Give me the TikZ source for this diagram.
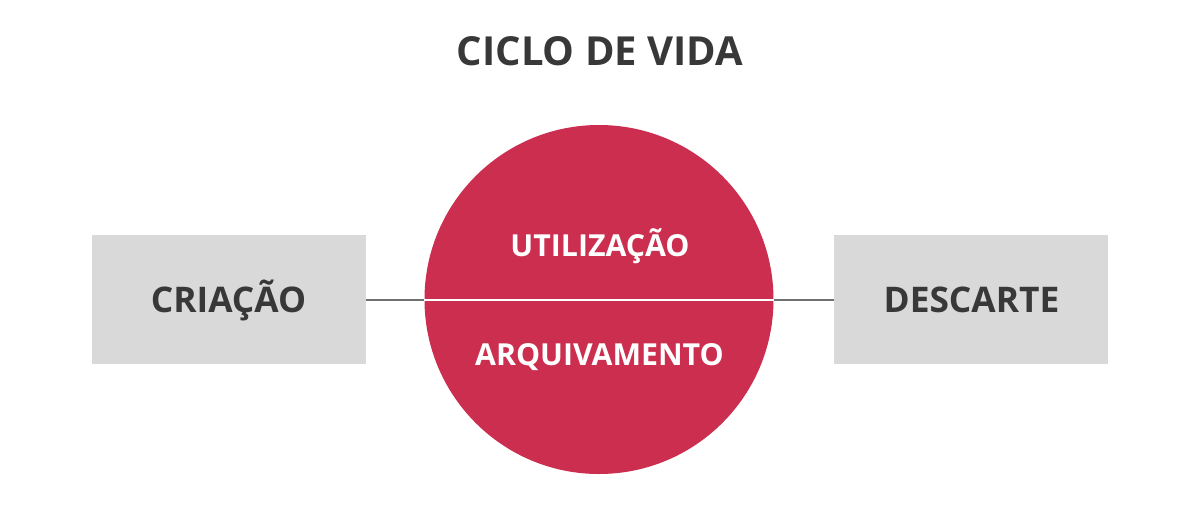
\documentclass[tikz,border=0pt]{standalone}
\usepackage{fontspec}
\setmainfont{Open Sans}
\definecolor{crimson}{HTML}{CC2E4F}
\definecolor{boxgray}{HTML}{D9D9D9}
\definecolor{txtdark}{HTML}{383838}
\definecolor{linegray}{HTML}{707070}
\tikzset{
  stagebox/.style={fill=boxgray, draw=none, minimum width=274pt, minimum height=129pt, inner sep=0pt},
  boxlabel/.style={font=\fontsize{35.3}{35.3}\selectfont\bfseries, text=txtdark, anchor=base, inner sep=0pt},
  circlabel/.style={font=\fontsize{30.3}{30.3}\selectfont\bfseries, text=white, anchor=base, inner sep=0pt},
  link/.style={draw=linegray, line width=2pt},
}
\begin{document}
\begin{tikzpicture}[x=1pt,y=-1pt]
\useasboundingbox (0,0) rectangle (1200,515);
\fill[white] (0,0) rectangle (1200,515);
\node[font=\fontsize{40}{40}\selectfont\bfseries, text=txtdark, anchor=base, inner sep=0pt] (title) at (600,65.5) {CICLO DE VIDA};
\node[stagebox] (cria) at (229,299.5) {};
\node[stagebox] (desc) at (971,299.5) {};
\node[circle, fill=crimson, draw=none, minimum size=349pt, inner sep=0pt] (circ) at (599,299.5) {};
\draw[link] (cria.east) -- (circ.west);
\draw[link] (circ.east) -- (desc.west);
\draw[white, line width=2pt] (circ.west) -- (circ.east);
\node[boxlabel] (criat) at (228.5,312) {CRIAÇÃO};
\node[boxlabel] (desct) at (971.5,312) {DESCARTE};
\node[circlabel] (util) at (600,256) {UTILIZAÇÃO};
\node[circlabel] (arq) at (599.5,365) {ARQUIVAMENTO};
\end{tikzpicture}
\end{document}
